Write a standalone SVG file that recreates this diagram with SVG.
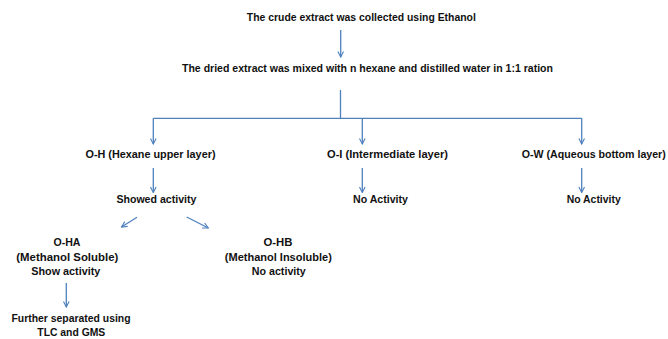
<svg xmlns="http://www.w3.org/2000/svg" width="668" height="339" viewBox="0 0 668 339">
<style>
text{font-family:"Liberation Sans",Arial,sans-serif;font-weight:bold;font-size:10px;fill:#111;text-anchor:middle}
.c{fill:none;stroke:#4F81BD;stroke-width:1.3}
</style>
<defs>
<marker id="ah" viewBox="0 0 10 10" refX="9" refY="5" markerWidth="7" markerHeight="7" markerUnits="userSpaceOnUse" orient="auto">
<path d="M1,1 L9,5 L1,9" fill="none" stroke="#4F81BD" stroke-width="1.6"/>
</marker>
</defs>
<rect width="668" height="339" fill="#fff"/>
<g id="connectors">
<path class="c" d="M340.7,30 V57" marker-end="url(#ah)"/>
<path class="c" d="M340.5,90 V118.3 M153.3,118.3 H581.7"/>
<path class="c" d="M153.3,118.3 V144" marker-end="url(#ah)"/>
<path class="c" d="M362.3,118.3 V144" marker-end="url(#ah)"/>
<path class="c" d="M581.7,118.3 V144" marker-end="url(#ah)"/>
<path class="c" d="M153.3,168 V192.5" marker-end="url(#ah)"/>
<path class="c" d="M362.3,168 V192.5" marker-end="url(#ah)"/>
<path class="c" d="M581.7,168 V192.5" marker-end="url(#ah)"/>
<path class="c" d="M137,217.3 L121.5,227" marker-end="url(#ah)"/>
<path class="c" d="M186.7,217 L208.3,228" marker-end="url(#ah)"/>
<path class="c" d="M66.3,283 V307" marker-end="url(#ah)"/>
</g>
<g id="n1"><text x="361.3" y="20.5" textLength="229" lengthAdjust="spacingAndGlyphs">The crude extract was collected using Ethanol</text></g>
<g id="n2"><text x="367.5" y="72" textLength="371" lengthAdjust="spacingAndGlyphs">The dried extract was mixed with n hexane and distilled water in 1:1 ration</text></g>
<g id="oh"><text x="150.5" y="157.5" textLength="130" lengthAdjust="spacingAndGlyphs">O-H (Hexane upper layer)</text></g>
<g id="oi"><text x="387.5" y="157.5" textLength="121" lengthAdjust="spacingAndGlyphs">O-I (Intermediate layer)</text></g>
<g id="ow"><text x="593.8" y="157.5" textLength="144" lengthAdjust="spacingAndGlyphs">O-W (Aqueous bottom layer)</text></g>
<g id="sa"><text x="156.4" y="203" textLength="80" lengthAdjust="spacingAndGlyphs">Showed activity</text></g>
<g id="na1"><text x="380.5" y="203" textLength="55" lengthAdjust="spacingAndGlyphs">No Activity</text></g>
<g id="na2"><text x="593.7" y="203" textLength="54" lengthAdjust="spacingAndGlyphs">No Activity</text></g>
<g id="oha">
<text x="67" y="246" textLength="27" lengthAdjust="spacingAndGlyphs">O-HA</text>
<text x="67.3" y="261" textLength="102" lengthAdjust="spacingAndGlyphs">(Methanol Soluble)</text>
<text x="65.8" y="274.5" textLength="69" lengthAdjust="spacingAndGlyphs">Show activity</text>
</g>
<g id="ohb">
<text x="278" y="246" textLength="29" lengthAdjust="spacingAndGlyphs">O-HB</text>
<text x="278.3" y="261" textLength="107" lengthAdjust="spacingAndGlyphs">(Methanol Insoluble)</text>
<text x="278.8" y="274.5" textLength="54" lengthAdjust="spacingAndGlyphs">No activity</text>
</g>
<g id="further">
<text x="71" y="321.5" textLength="119" lengthAdjust="spacingAndGlyphs">Further separated using</text>
<text x="71.3" y="336" textLength="68" lengthAdjust="spacingAndGlyphs">TLC and GMS</text>
</g>
</svg>
